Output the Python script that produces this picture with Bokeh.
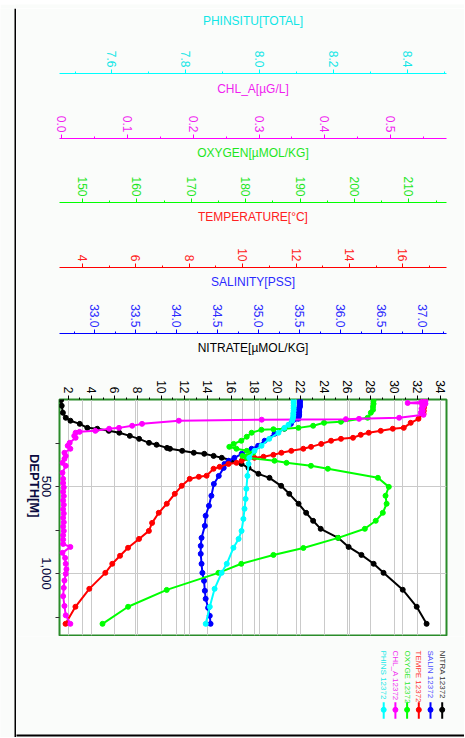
import math
from bokeh.plotting import figure
from bokeh.models import (Range1d, LinearAxis, FixedTicker, PrintfTickFormatter,
                          Grid, ColumnDataSource)
from bokeh.layouts import column, row
from bokeh.embed import file_html
from bokeh.resources import INLINE
from bokeh.core.properties import value

# ---------------- data (depth in m, value) ----------------
nitrate_depth = [3, 36, 76, 105, 122, 140, 163, 168, 180, 191, 209, 226, 249, 260, 278, 283, 295, 306,
                 312, 324, 335, 352, 370, 393, 427, 450, 496, 542, 599, 651, 697, 743, 795, 847, 893,
                 944, 996, 1093, 1191, 1289]
nitrate = [1.40, 1.45, 1.55, 1.80, 2.2, 3.0, 3.65, 4.5, 5.5, 6.4, 7.3, 8.1, 8.95, 9.6, 10.5, 10.75, 11.8,
           12.8, 13.7, 14.5, 15.2, 16.2, 16.9, 17.5, 18.35, 19.3, 20.3, 21.0, 21.8, 22.45, 23.05, 23.7,
           25.2, 26.1, 27.2, 28.25, 29.1, 30.75, 31.95, 32.8]

salinity_depth = [7, 15, 25, 35, 42, 50, 59, 68, 76, 85, 94, 103, 111, 140, 168, 197, 237, 266, 283, 312,
                  335, 352, 370, 393, 439, 485, 553, 611, 668, 726, 795, 841, 887, 944, 996, 1042, 1099,
                  1145, 1197, 1243, 1289]
salinity = [35.50, 35.50, 35.50, 35.50, 35.50, 35.49, 35.49, 35.49, 35.49, 35.49, 35.49, 35.48, 35.48,
            35.39, 35.31, 35.19, 35.07, 34.99, 34.91, 34.79, 34.70, 34.63, 34.58, 34.57, 34.51, 34.45,
            34.42, 34.39, 34.35, 34.34, 34.30, 34.29, 34.29, 34.30, 34.31, 34.33, 34.34, 34.35, 34.38,
            34.40, 34.41]

temp_depth = [5, 25, 45, 65, 82, 111, 134, 163, 168, 180, 191, 203, 220, 226, 237, 255, 272, 283, 295,
              306, 318, 329, 335, 352, 364, 370, 387, 398, 438, 444, 456, 496, 542, 599, 651, 709, 755,
              801, 852, 898, 944, 996, 1088, 1191, 1289]
temperature = [16.80, 16.80, 16.79, 16.78, 16.77, 16.58, 16.29, 16.03, 15.62, 15.17, 14.72, 14.42, 14.13,
               13.68, 13.31, 12.94, 12.56, 12.27, 11.82, 11.45, 11.15, 10.78, 10.44, 9.96, 9.77, 9.47,
               9.14, 8.91, 8.65, 8.36, 8.02, 7.72, 7.46, 7.16, 6.86, 6.61, 6.49, 6.12, 5.71, 5.41, 5.12,
               4.86, 4.26, 3.74, 3.37]

oxygen_depth = [7, 25, 42, 59, 76, 105, 128, 134, 151, 163, 168, 171, 174, 191, 214, 237, 255, 272, 283,
                295, 306, 324, 335, 352, 364, 381, 398, 450, 502, 553, 599, 651, 697, 743, 795, 853, 893,
                944, 996, 1094, 1191, 1289]
oxygen = [203.5, 203.5, 203.4, 203.4, 203.0, 202.4, 197.5, 194.4, 192.4, 189.7, 187.1, 185.1, 182.9,
          181.1, 180.2, 179.2, 177.8, 177.0, 178.3, 180.2, 181.4, 179.4, 180.2, 185.3, 187.5, 192.0,
          195.1, 204.3, 206.3, 205.7, 205.9, 205.2, 203.9, 201.9, 197.0, 190.6, 185.1, 179.2, 175.0,
          165.5, 158.4, 153.7]

chl_depth = [3, 8, 14, 20, 24, 30, 40, 52, 65, 75, 88, 105, 111, 113, 116, 122, 140, 151, 163, 168, 180,
             186, 191, 209, 220, 249, 266, 283, 306, 324, 341, 364, 381, 421, 456, 480, 505, 530, 555,
             580, 605, 630, 655, 680, 705, 730, 755, 780, 805, 830, 847, 881, 910, 944, 975, 1002, 1040,
             1082, 1130, 1186, 1240, 1289]
chl_a = [0.550, 0.553, 0.547, 0.526, 0.553, 0.548, 0.550, 0.547, 0.549, 0.546, 0.550, 0.513, 0.452,
         0.432, 0.304, 0.178, 0.122, 0.107, 0.087, 0.072, 0.051, 0.027, 0.021, 0.019, 0.021, 0.012,
         0.009, 0.013, 0.004, 0.006, 0.004, 0.001, 0.006, 0.001, 0.002, 0.002, 0.003, 0.002, 0.003,
         0.002, 0.003, 0.002, 0.003, 0.002, 0.003, 0.002, 0.003, 0.002, 0.002, 0.002, 0.013, 0.001,
         0.005, 0.006, 0.007, 0.006, 0.004, 0.003, 0.002, 0.004, 0.006, 0.013]

ph_depth = [7, 20, 36, 50, 65, 80, 94, 108, 122, 145, 163, 191, 226, 266, 295, 335, 370, 439, 513, 571,
            628, 686, 755, 801, 852, 944, 996, 1088, 1191, 1289]
ph_insitu = [8.092, 8.092, 8.092, 8.092, 8.092, 8.091, 8.091, 8.090, 8.088, 8.078, 8.067, 8.051, 8.026,
             8.005, 7.986, 7.972, 7.970, 7.967, 7.964, 7.962, 7.959, 7.956, 7.951, 7.943, 7.929, 7.911,
             7.897, 7.878, 7.865, 7.854]

# tick values / labels
nitrate_ticks = list(range(2, 35, 2))
nitrate_minor = list(range(1, 36))
sal_ticks = [33.0, 33.5, 34.0, 34.5, 35.0, 35.5, 36.0, 36.5, 37.0]
sal_minor = [32.75, 33.25, 33.75, 34.25, 34.75, 35.25, 35.75, 36.25, 36.75, 37.25]
temp_ticks = [4, 6, 8, 10, 12, 14, 16]
temp_minor = [3, 5, 7, 9, 11, 13, 15, 17]
oxy_ticks = [150, 160, 170, 180, 190, 200, 210]
oxy_minor = [155, 165, 175, 185, 195, 205, 215]
chl_ticks = [0.0, 0.1, 0.2, 0.3, 0.4, 0.5]
chl_minor = [0.05, 0.15, 0.25, 0.35, 0.45, 0.55]
ph_ticks = [7.6, 7.8, 8.0, 8.2, 8.4]
ph_minor = [7.5, 7.7, 7.9, 8.1, 8.3, 8.5]
depth_ticks = [500, 1000]
depth_minor = [250, 750, 1250]
depth_labels = ["500", "1,000"]

station = "12372"
legend_names = ["NITRA", "SALIN", "TEMPE", "OXYGE", "CHL_A", "PHINS"]

# ---------------- styling ----------------
BG = "#fafcfa"
GRID = "#cacaca"
FONT = "Liberation Sans"
C_NIT, C_SAL, C_TMP, C_OXY, C_CHL, C_PH = "#000000", "#0000ff", "#ff0000", "#00ff00", "#ff00ff", "#00ffff"
T_NIT, T_SAL, T_TMP, T_OXY, T_CHL, T_PH = "#000000", "#2a2aff", "#ff2020", "#1ee61e", "#f01ef0", "#10e6e6"
DEPTH_LABEL_PX = 13
PX_PER_M = 236 / 1356.0

W = 448
PH_H = 628
LH = 101
p = figure(width=W, height=PH_H, output_backend="svg", toolbar_location=None, title=None,
           x_range=Range1d(1.26, 34.51), y_range=Range1d(1356, 0),
           x_axis_location="above", min_border_left=41, min_border_right=18,
           min_border_top=391, min_border_bottom=1)
p.background_fill_color = "white"
p.border_fill_color = BG
p.outline_line_color = "#2a8c2a"
p.outline_line_width = 2
if "frame_align" in p.properties():
    p.frame_align = False

p.extra_x_ranges = {
    "sal": Range1d(32.567, 37.288),
    "temp": Range1d(3.144, 17.63),
    "oxy": Range1d(145.8, 216.9),
    "chl": Range1d(-0.0035, 0.585),
    "ph": Range1d(7.458, 8.506),
}


def style_axis(ax, line_color, text_color, title, standoff, ticks, minor, fmt, pad=True):
    ax.ticker = FixedTicker(ticks=ticks, minor_ticks=minor)
    if fmt:
        ax.formatter = PrintfTickFormatter(format=fmt)
    if pad:
        ax.axis_label = "\u00a0\n" + title
        ax.axis_label_text_line_height = 0.36
    else:
        ax.axis_label = title
    ax.axis_label_text_color = text_color
    ax.axis_label_text_font = FONT
    ax.axis_label_text_font_size = "12px"
    ax.axis_label_text_font_style = "normal"
    ax.axis_label_standoff = standoff
    ax.major_label_text_color = text_color
    ax.major_label_text_font = FONT
    ax.major_label_text_font_size = "12px"
    ax.major_label_orientation = -math.pi / 2
    ax.major_label_standoff = 2
    ax.major_tick_out = 4
    ax.major_tick_in = 0
    ax.minor_tick_out = 2
    ax.minor_tick_in = 0
    ax.major_tick_line_color = line_color
    ax.minor_tick_line_color = line_color
    ax.axis_line_color = line_color


# nitrate axis (default, closest to the frame)
nax = p.xaxis[0]
style_axis(nax, "#000000", T_NIT, "NITRATE[\u00b5MOL/KG]", 22, nitrate_ticks, nitrate_minor, None)
nax.axis_line_color = None

specs = [
    ("sal", C_SAL, T_SAL, "SALINITY[PSS]", 12, sal_ticks, sal_minor, "%.1f", True),
    ("temp", C_TMP, T_TMP, "TEMPERATURE[\u00b0C]", 21, temp_ticks, temp_minor, "%d", True),
    ("oxy", C_OXY, T_OXY, "OXYGEN[\u00b5MOL/KG]", 13, oxy_ticks, oxy_minor, "%d", True),
    ("chl", C_CHL, T_CHL, "CHL_A[\u00b5G/L]", 17, chl_ticks, chl_minor, "%.1f", True),
    ("ph", C_PH, T_PH, "PHINSITU[TOTAL]", 20, ph_ticks, ph_minor, "%.1f", False),
]
for name, lc, tc, title, so, tk, mn, fmt, pad in specs:
    ax = LinearAxis(x_range_name=name)
    style_axis(ax, lc, tc, title, so, tk, mn, fmt, pad)
    p.add_layout(ax, "above")
    g = Grid(dimension=0, ticker=FixedTicker(ticks=tk), x_range_name=name,
             grid_line_color=GRID, grid_line_width=1)
    p.add_layout(g)

p.xgrid.ticker = FixedTicker(ticks=nitrate_ticks)
p.xgrid.grid_line_color = GRID

# depth axis: tick marks only
yax = p.yaxis[0]
yax.ticker = FixedTicker(ticks=depth_ticks, minor_ticks=depth_minor)
yax.major_label_overrides = {t: "" for t in depth_ticks}
yax.major_label_text_font_size = "0px"
yax.major_label_standoff = 0
yax.major_tick_out = 4
yax.major_tick_in = 0
yax.minor_tick_out = 4
yax.minor_tick_in = 0
yax.major_tick_line_color = "#333333"
yax.minor_tick_line_color = "#333333"
yax.axis_line_color = None
p.ygrid.ticker = FixedTicker(ticks=depth_ticks)
p.ygrid.grid_line_color = GRID

# depth axis labels: rotated labels centred on their ticks
# (Bokeh anchors a -90deg label at its end, so the label tick sits half a label length lower)
CHAR_W = {"0": 0.556, "1": 0.556, "5": 0.556, ",": 0.278}
half_len_m = [sum(CHAR_W[c] for c in lab) * DEPTH_LABEL_PX / 2 / PX_PER_M for lab in depth_labels]
lab_pos = [round(t + h, 1) for t, h in zip(depth_ticks, half_len_m)]
lax = LinearAxis(ticker=FixedTicker(ticks=lab_pos, minor_ticks=[]))
lax.major_label_overrides = {pos: lab for pos, lab in zip(lab_pos, depth_labels)}
lax.major_label_orientation = -math.pi / 2
lax.major_label_text_font = FONT
lax.major_label_text_font_size = "%dpx" % DEPTH_LABEL_PX
lax.major_label_text_color = "#0a0a40"
lax.major_label_standoff = 9
lax.major_tick_out = 0
lax.major_tick_in = 0
lax.minor_tick_out = 0
lax.minor_tick_in = 0
lax.major_tick_line_color = None
lax.minor_tick_line_color = None
lax.axis_line_color = None
lax.axis_label = "DEPTH[M]"
lax.axis_label_text_font = FONT
lax.axis_label_text_font_size = "13px"
lax.axis_label_text_font_style = "bold"
lax.axis_label_text_color = "#0a0a40"
lax.axis_label_standoff = 0
if "axis_label_orientation" in LinearAxis.properties():
    lax.axis_label_orientation = -math.pi / 2
p.add_layout(lax, "left")

# series
series = [
    (nitrate, nitrate_depth, "default", C_NIT),
    (salinity, salinity_depth, "sal", C_SAL),
    (temperature, temp_depth, "temp", C_TMP),
    (oxygen, oxygen_depth, "oxy", C_OXY),
    (chl_a, chl_depth, "chl", C_CHL),
    (ph_insitu, ph_depth, "ph", C_PH),
]
for vals, dep, rn, col in series:
    src = ColumnDataSource(dict(v=vals, d=dep))
    p.line("v", "d", source=src, x_range_name=rn, line_color=col, line_width=2)
    p.scatter("v", "d", source=src, x_range_name=rn, size=5, fill_color=col, line_color=col)


def panel(w, h, left=0, bottom=0):
    f = figure(width=w, height=h, output_backend="svg", toolbar_location=None, title=None,
               x_range=Range1d(0, w - left), y_range=Range1d(h - bottom, 0),
               x_axis_type=None, y_axis_type=None,
               min_border=0, min_border_left=left, min_border_right=0, min_border_top=0,
               min_border_bottom=bottom)
    f.grid.visible = False
    f.outline_line_color = None
    f.background_fill_color = BG
    f.border_fill_color = BG
    if "frame_align" in f.properties():
        f.frame_align = False
    return f


def edge_axis(f):
    # a bare axis whose line forms a black 2px edge of the page frame
    ax = LinearAxis(ticker=FixedTicker(ticks=[], minor_ticks=[]))
    ax.major_tick_out = 0
    ax.major_tick_in = 0
    ax.minor_tick_out = 0
    ax.minor_tick_in = 0
    ax.major_label_text_font_size = "0px"
    ax.axis_line_color = "black"
    ax.axis_line_width = 2
    f.add_layout(ax, "below")


# legend panel (its bottom axis line is the bottom edge of the page frame)
leg = panel(W, LH, bottom=2)
leg_text_colors = ["#303030", "#4a4aff", "#ff3030", "#30e830", "#f030f0", "#20e8e8"]
leg_mark_colors = [C_NIT, C_SAL, C_TMP, C_OXY, C_CHL, C_PH]
lx = [425.7 - 11.7 * i for i in range(len(legend_names))]
lsrc = ColumnDataSource(dict(x=lx, t=[n + " " + station for n in legend_names],
                             tc=leg_text_colors, mc=leg_mark_colors))
leg.text(x="x", y=14, text="t", source=lsrc, text_color="tc", angle=-math.pi / 2,
         text_align="left", text_baseline="middle", text_font=value(FONT),
         text_font_size=value("8px"))
leg.segment(x0="x", y0=65.7, x1="x", y1=82.3, source=lsrc, line_color="mc", line_width=2)
leg.scatter(x="x", y=73.3, source=lsrc, size=5, fill_color="mc", line_color="mc")
edge_axis(leg)

# top strip (its bottom axis line is the top edge of the page frame)
top = panel(16 + W, 8, left=14, bottom=1)
edge_axis(top)

# left strip with the left edge of the page frame
side = panel(16, PH_H + LH)
side.quad(left=14, right=16, top=0, bottom=PH_H + LH, fill_color="black", line_color=None)

root = column(top, row(side, column(p, leg, spacing=0), spacing=0), spacing=0)

open("out.html", "w").write(file_html(root, INLINE))
